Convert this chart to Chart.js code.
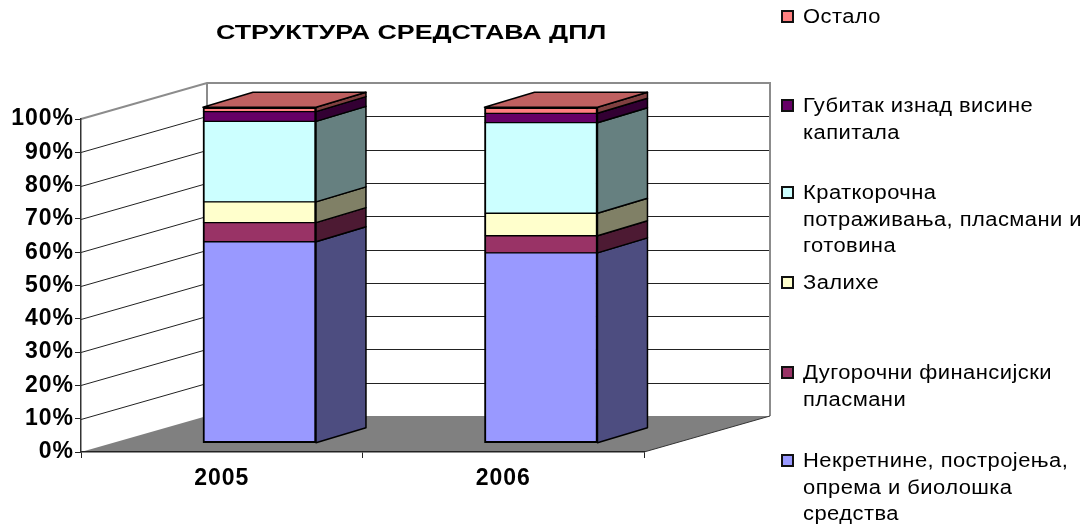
<!DOCTYPE html>
<html>
<head>
<meta charset="utf-8">
<title>Структура средстава ДПЛ</title>
<script src="https://cdn.jsdelivr.net/npm/chart.js@4"></script>
<style>
    body { margin: 0; background: #fff; font-family: "Liberation Sans", Arial, sans-serif; color: #000; }
    #wrap { position: relative; width: 1089px; height: 524px; overflow: hidden; }
    #chart { position: absolute; left: 0; top: 0; }
    /* The original text is stretched sideways, hence the scaleX */
    #title { position: absolute; left: 216px; top: 19px; margin: 0; font-size: 21px; line-height: 26px; font-weight: bold; white-space: nowrap; transform: scaleX(1.275); transform-origin: left center; }
    .legend-item { position: absolute; left: 803px; font-size: 19.5px; line-height: 26.7px; white-space: pre-line; }
    .legend-item span { display: block; letter-spacing: 0.4px; transform: scaleX(1.125); transform-origin: left center; }
    .legend-item i { position: absolute; left: -22px; top: 7px; width: 9px; height: 9px; border: 2px solid #111; }
    .legend-item:nth-of-type(1) { top: 3px; }
    .legend-item:nth-of-type(2) { top: 92px; }
    .legend-item:nth-of-type(3) { top: 179px; }
    .legend-item:nth-of-type(4) { top: 269px; }
    .legend-item:nth-of-type(5) { top: 359px; }
    .legend-item:nth-of-type(6) { top: 447px; }
</style>
</head>
<body>
<div id="wrap">
    <canvas id="chart" width="1089" height="524"></canvas>
    <h1 id="title">СТРУКТУРА СРЕДСТАВА ДПЛ</h1>
</div>
<script>
// ── Data (percent of total, bottom of the stack first) ────────
const YEARS = ["2005", "2006"];
const SERIES_NAMES = [
    "Некретнине, постројења,\nопрема и биолошка\nсредства",
    "Дугорочни финансијски\nпласмани",
    "Залихе",
    "Краткорочна\nпотраживања, пласмани и\nготовина",
    "Губитак изнад висине\nкапитала",
    "Остало"
];
const FIXED_ASSETS = [59.9, 56.6];
const LONG_TERM    = [5.7, 5.1];
const INVENTORY    = [6.2, 6.7];
const SHORT_TERM   = [24.0, 27.0];
const LOSS         = [2.9, 2.8];
const OTHER        = [1.3, 1.8];
const SERIES_VALUES = [FIXED_ASSETS, LONG_TERM, INVENTORY, SHORT_TERM, LOSS, OTHER];

const FRONT_COLORS = ["#9999FF", "#993366", "#FFFFCC", "#CCFFFF", "#660066", "#FF8080"];
const SIDE_COLORS  = ["#4D4D80", "#4D1A33", "#808066", "#668080", "#330033", "#804040"];
const TOP_COLOR = "#BF6060";

// ── 3D box offsets ────────────────────────────────────────────
const WALL_DX = 126, WALL_DY = -36;
const BAR_DX = 50, BAR_DY = -15;

// ── Walls, floor and gridlines, taken from the value scale ────
const wallsPlugin = {
    id: "walls",
    beforeDraw(chart) {
        const { ctx, chartArea: a, scales: { y } } = chart;
        const y0 = y.getPixelForValue(0), y100 = y.getPixelForValue(100);

        // Axis labels are stretched in the original too
        ctx.letterSpacing = "1px";

        ctx.save();
        ctx.fillStyle = "#808080";
        ctx.beginPath();
        ctx.moveTo(a.left, y0);
        ctx.lineTo(a.left + WALL_DX, y0 + WALL_DY);
        ctx.lineTo(a.right + WALL_DX, y0 + WALL_DY);
        ctx.lineTo(a.right, y0);
        ctx.closePath();
        ctx.fill();

        ctx.strokeStyle = "#222";
        ctx.lineWidth = 1;
        y.ticks.forEach(t => {
            if (t.value === 0 || t.value === 100) return;
            const py = Math.round(y.getPixelForValue(t.value)) + 0.5;
            ctx.beginPath();
            ctx.moveTo(a.left, py);
            ctx.lineTo(a.left + WALL_DX, py + WALL_DY);
            ctx.lineTo(a.right + WALL_DX, py + WALL_DY);
            ctx.stroke();
        });

        // Gray outline of the walls
        ctx.strokeStyle = "#8c8c8c";
        ctx.lineWidth = 2;
        ctx.beginPath();
        ctx.moveTo(a.left, y100);
        ctx.lineTo(a.left + WALL_DX, y100 + WALL_DY);
        ctx.lineTo(a.right + WALL_DX, y100 + WALL_DY);
        ctx.lineTo(a.right + WALL_DX, y0 + WALL_DY);
        ctx.moveTo(a.left + WALL_DX, y100 + WALL_DY);
        ctx.lineTo(a.left + WALL_DX, y0 + WALL_DY);
        ctx.stroke();

        ctx.strokeStyle = "#333";
        ctx.lineWidth = 1;
        ctx.beginPath();
        ctx.moveTo(a.right, y0);
        ctx.lineTo(a.right + WALL_DX, y0 + WALL_DY);
        ctx.stroke();
        ctx.restore();
    },
    beforeDatasetsDraw(chart) {
        const { ctx } = chart;
        const lastIndex = chart.data.datasets.length - 1;
        ctx.save();
        ctx.strokeStyle = "#000";
        ctx.lineWidth = 1.5;
        ctx.lineJoin = "round";
        chart.data.datasets.forEach((ds, i) => {
            chart.getDatasetMeta(i).data.forEach(bar => {
                const right = bar.x + bar.width / 2;
                const left = bar.x - bar.width / 2;
                ctx.fillStyle = SIDE_COLORS[i];
                ctx.beginPath();
                ctx.moveTo(right, bar.base);
                ctx.lineTo(right + BAR_DX, bar.base + BAR_DY);
                ctx.lineTo(right + BAR_DX, bar.y + BAR_DY);
                ctx.lineTo(right, bar.y);
                ctx.closePath();
                ctx.fill();
                ctx.stroke();
                if (i === lastIndex) {
                    ctx.fillStyle = TOP_COLOR;
                    ctx.beginPath();
                    ctx.moveTo(left, bar.y);
                    ctx.lineTo(left + BAR_DX, bar.y + BAR_DY);
                    ctx.lineTo(right + BAR_DX, bar.y + BAR_DY);
                    ctx.lineTo(right, bar.y);
                    ctx.closePath();
                    ctx.fill();
                    ctx.stroke();
                }
            });
        });
        ctx.restore();
    }
};

// ── Chart ─────────────────────────────────────────────────────
const AXIS_FONT = { family: "'Liberation Sans', Arial, sans-serif", size: 23, weight: "bold" };

new Chart(document.getElementById("chart").getContext("2d"), {
    type: "bar",
    data: {
        labels: YEARS,
        datasets: SERIES_VALUES.map((values, i) => ({
            label: SERIES_NAMES[i].replace(/\n/g, " "),
            data: values,
            xAxisID: "xBar",
            yAxisID: "yBar",
            backgroundColor: FRONT_COLORS[i],
            borderColor: "#000",
            // Neighbours share a border, so each one gets half of it
            borderWidth: {
                left: 2,
                right: 2,
                top: i === SERIES_VALUES.length - 1 ? 2 : 1,
                bottom: i === 0 ? 2 : 1
            },
            borderSkipped: false,
            barThickness: 113,
            clip: false
        }))
    },
    options: {
        responsive: false,
        animation: false,
        layout: { padding: { top: 119, right: 445, left: 0, bottom: 0 } },
        plugins: { legend: { display: false }, title: { display: false }, tooltip: { enabled: false } },
        scales: {
            // Visible axes sit on the front edge of the 3D box
            x: {
                type: "category",
                offset: true,
                afterFit: s => { s.height = 72; },
                grid: { offset: true, drawOnChartArea: false, tickLength: 6, color: "#222" },
                border: { color: "#222", width: 1.5 },
                ticks: { color: "#000", font: AXIS_FONT, padding: 7, maxRotation: 0 }
            },
            y: {
                min: 0,
                max: 100,
                afterFit: s => { s.width = 81; },
                grid: { drawOnChartArea: false, tickLength: 6, color: "#222" },
                border: { color: "#333", width: 1.5 },
                ticks: { stepSize: 10, color: "#000", font: AXIS_FONT, padding: 1, callback: v => v + "%" }
            },
            // Hidden axes place the bars a little deeper inside the box
            xBar: { type: "linear", display: false, stacked: true, offset: false, min: 2004.366, max: 2006.366, grid: { offset: false } },
            yBar: { type: "linear", display: false, stacked: true, min: -2.77, max: 96.5 }
        }
    },
    plugins: [wallsPlugin]
});

// ── Legend, top to bottom is the reverse of the stack ─────────
const wrap = document.getElementById("wrap");
SERIES_NAMES.map((name, i) => ({ name, color: FRONT_COLORS[i] })).reverse().forEach(item => {
    const div = document.createElement("div");
    div.className = "legend-item";
    const swatch = document.createElement("i");
    swatch.style.background = item.color;
    const text = document.createElement("span");
    text.textContent = item.name;
    div.appendChild(swatch);
    div.appendChild(text);
    wrap.appendChild(div);
});
</script>
</body>
</html>
